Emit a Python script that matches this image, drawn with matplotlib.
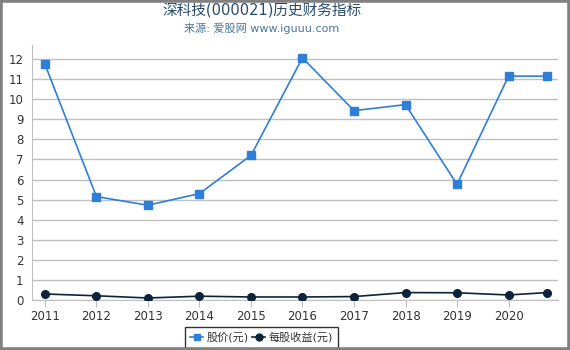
import matplotlib
matplotlib.use("Agg")
import matplotlib.pyplot as plt
from matplotlib.patches import Rectangle

plt.rcParams['font.family'] = ['DejaVu Sans', 'Noto Sans CJK SC']

years = [2011, 2012, 2013, 2014, 2015, 2016, 2017, 2018, 2019, 2020, 2020.75]
tick_years = [2011, 2012, 2013, 2014, 2015, 2016, 2017, 2018, 2019, 2020]
price = [11.75, 5.15, 4.72, 5.30, 7.20, 12.06, 9.43, 9.73, 5.76, 11.15, 11.15]
eps = [0.30, 0.21, 0.10, 0.19, 0.15, 0.15, 0.17, 0.37, 0.36, 0.25, 0.37]
yticks = list(range(0, 13))

title = "深科技(000021)历史财务指标"
subtitle = "来源: 爱股网 www.iguuu.com"
price_label = "股价(元)"
eps_label = "每股收益(元)"

fig = plt.figure(figsize=(5.7, 3.5), dpi=100)
ax = fig.add_axes([32/570, 50/350, 526/570, 255/350])

ax.plot(years, price, color='#2f7ed8', lw=1.2, marker='s', ms=5.5,
        markerfacecolor='#2f7ed8', markeredgecolor='#2f7ed8', label=price_label, zorder=3)
ax.plot(years, eps, color='#0d233a', lw=1.2, marker='o', ms=5.5,
        markerfacecolor='#0d233a', markeredgecolor='#0d233a', label=eps_label, zorder=3)

ax.set_xlim(2010.75, 2020.96)
ax.set_ylim(0, 12.7)
ax.set_yticks(yticks)
ax.set_xticks(tick_years)
ax.set_xticklabels([str(y) for y in tick_years])
ax.grid(axis='y', color='#c0c0c0', lw=1)
ax.set_axisbelow(True)
for s in ['top', 'right']:
    ax.spines[s].set_visible(False)
ax.spines['left'].set_color('#c0c0c0')
ax.spines['bottom'].set_color('#c0c0c0')
ax.tick_params(axis='y', length=0, labelsize=8.5, colors='#333333', pad=6)
ax.tick_params(axis='x', length=5, color='#c0c0c0', labelsize=8.5, labelcolor='#333333', pad=2)

cx = 261.5 / 570
fig.text(cx, 1 - 11/350, title, ha='center', va='center', fontsize=10.5, color='#274b6d')
fig.text(cx, 1 - 28/350, subtitle, ha='center', va='center', fontsize=8, color='#4d759e')

leg = fig.legend(loc='center', bbox_to_anchor=(cx, 1 - 337.5/350), ncol=2,
                 frameon=True, fancybox=False, fontsize=8, handlelength=1.15,
                 handletextpad=0.3, columnspacing=0.35, borderpad=0.45, borderaxespad=0,
                 markerscale=0.9)
leg.get_frame().set_edgecolor('#000000')
leg.get_frame().set_linewidth(1)
for t in leg.get_texts():
    t.set_color('#333333')

fig.patches.append(Rectangle((0, 0), 1, 1, transform=fig.transFigure, fill=False,
                             edgecolor='#808080', lw=4, zorder=10))

fig.savefig('out.png', dpi=100)
